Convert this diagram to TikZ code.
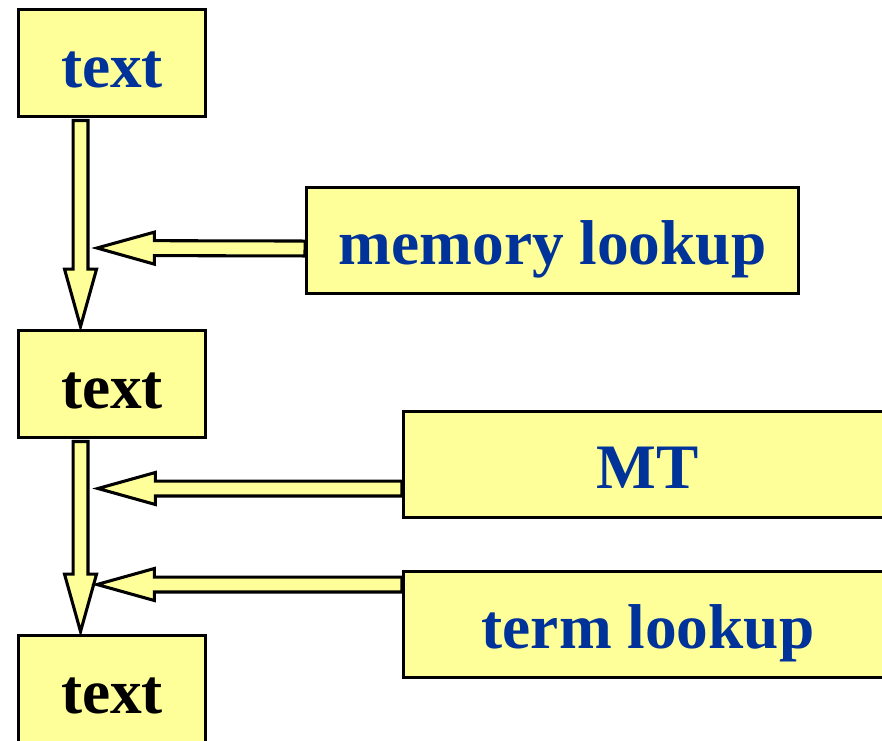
\documentclass[tikz,border=0pt]{standalone}
\usepackage{fontspec}
\setmainfont{Liberation Serif}
\usetikzlibrary{calc}
\definecolor{boxyellow}{RGB}{255,255,153}
\definecolor{lookupblue}{RGB}{0,51,153}
\tikzstyle{stage} = [draw, line width=2.2pt, fill=boxyellow, inner sep=0pt,
  minimum width=140pt, minimum height=80pt, text height=40pt, text depth=4pt,
  font=\fontsize{47.5}{57}\selectfont\bfseries]
\tikzstyle{source} = [stage, text=lookupblue]
\tikzstyle{fatarrow} = [draw, line width=2.3pt, fill=boxyellow, line join=miter]
% block arrow from #1 to #2
\newcommand{\blockarrow}[2]{%
  \filldraw[fatarrow] let \p1=(#1), \p2=(#2),
    \n1={atan2(\y2-\y1,\x2-\x1)}, \n2={veclen(\x2-\x1,\y2-\y1)} in
    [shift={(\p1)}, rotate=\n1]
    (0pt,-5.6pt) -- ({\n2*1pt-43pt},-5.6pt) -- ({\n2*1pt-43pt},-12pt) -- ({\n2*1pt},0pt)
    -- ({\n2*1pt-43pt},12pt) -- ({\n2*1pt-43pt},5.6pt) -- (0pt,5.6pt) -- cycle;
}

\begin{document}
\begin{tikzpicture}[x=0.75pt, y=-0.75pt]
        \useasboundingbox (0,0) rectangle (882,740);
        \node (in) [source] at (112,63) {text};
        \node (mid) [stage] at (112,384) {text};
        \node (out) [stage] at (112,689) {text};
        \node (memory) [source, minimum width=369pt] at (552.5,240.5) {memory lookup};
        \node (mt) [source, minimum width=367pt] at (648,464.5) {MT};
        \node (term) [source, minimum width=367pt] at (648,624.5) {term lookup};
        \coordinate (hit1) at (97,248);
        \coordinate (hit2) at (98,488.5);
        \coordinate (hit3) at (97,584.5);
        \blockarrow{[xshift=-23.6pt,yshift=-2pt]in.south}{[xshift=-23.6pt,yshift=2pt]mid.north}
        \blockarrow{[xshift=-23.6pt,yshift=-2pt]mid.south}{[xshift=-23.6pt,yshift=2pt]out.north}
        \blockarrow{[yshift=-6pt]memory.west}{hit1}
        \blockarrow{[yshift=-18pt]mt.west}{hit2}
        \blockarrow{[yshift=30pt]term.west}{hit3}
    \end{tikzpicture}
\end{document}
